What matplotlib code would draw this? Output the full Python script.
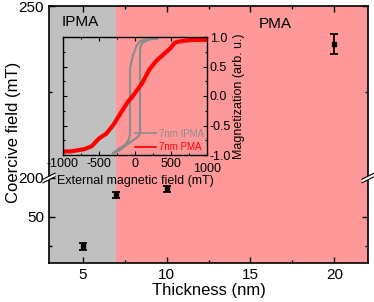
import matplotlib
matplotlib.use('Agg')
import matplotlib.pyplot as plt
import matplotlib.transforms as mtransforms
import numpy as np
from matplotlib.ticker import FixedLocator, MultipleLocator

plt.rcParams['font.family'] = ['Liberation Sans', 'DejaVu Sans']

# coercive field vs thickness
thick = [5, 7, 10, 20]
hc = [25, 68.5, 73.5, 239]
hc_err = [3, 2.5, 2.5, 2.9]

# inset loops (external field mT, magnetization arb. u.)
h_pma = [-1000, -900, -800, -700, -600, -500, -400, -300, -200, -100, -50, 0,
         100, 200, 300, 400, 500, 550, 600, 700, 800, 900, 1000]
m_pma = [-0.94, -0.94, -0.92, -0.90, -0.85, -0.72, -0.64, -0.49, -0.29, -0.10, -0.03, 0.05,
         0.22, 0.45, 0.60, 0.71, 0.82, 0.90, 0.92, 0.94, 0.95, 0.95, 0.95]
h_ipma = [306, 240, 150, 70, 20, -28, -50, -69, -69, -90, -140, -208, -306,
          -210, -139, -40, 42, 62, 70, 70, 100, 181, 240, 306]
m_ipma = [0.97, 0.97, 0.96, 0.93, 0.85, 0.69, 0.58, 0.47, -0.66, -0.75, -0.83, -0.88, -0.97,
          -0.92, -0.85, -0.76, -0.69, -0.65, -0.61, 0.81, 0.90, 0.95, 0.97, 0.98]

# broken y axis: lower 11..83, upper 200..250
pix_px = [0, 85, 85.001, 257]
pix_val = [11, 83, 200, 250]


def fwd(y):
    return np.interp(y, pix_val, pix_px)


def inv(p):
    return np.interp(p, pix_px, pix_val)


fig = plt.figure(figsize=(3.74, 3.02), dpi=100)
ax = fig.add_axes([49 / 374, 1 - 263 / 302, 319 / 374, 257 / 302])
ax.set_yscale('function', functions=(fwd, inv))
ax.set_xlim(3, 22)
ax.set_ylim(11, 250)

ax.axvspan(3, 7, color='#c0c0c0', lw=0, zorder=0)
ax.axvspan(7, 22, color='#ff9999', lw=0, zorder=0)

ax.errorbar(thick, hc, yerr=hc_err, fmt='s', color='k', ms=3, capsize=3,
            elinewidth=1.3, capthick=1.3, zorder=5)

ax.text(4.85, 245.3, 'IPMA', fontsize=11, ha='center', va='center')
ax.text(16.5, 244.8, 'PMA', fontsize=11, ha='center', va='center')

ax.xaxis.set_major_locator(FixedLocator([5, 10, 15, 20]))
ax.xaxis.set_minor_locator(FixedLocator([7.5, 12.5, 17.5]))
ax.yaxis.set_major_locator(FixedLocator([50, 200, 250]))
ax.yaxis.set_minor_locator(FixedLocator([25, 225]))
ax.set_yticklabels(['50', '200', '250'])
ax.tick_params(which='both', direction='in', top=True, right=True, labelsize=11, width=1)
ax.tick_params(which='major', length=4)
ax.tick_params(which='minor', length=2.5)
for s in ax.spines.values():
    s.set_linewidth(1.2)
ax.set_xlabel('Thickness (nm)', fontsize=12, labelpad=1)
ax.set_ylabel('Coercive field (mT)', fontsize=12)
ax.yaxis.set_label_coords(-0.088, 0.51)

# break marks
W, H = 319, 257
yb = 85 / 257
dx, dy, g = 6 / W, 3 / H, 1.8 / H
for xb in (0, 1):
    poly = plt.Polygon([(xb - dx, yb - dy - g), (xb + dx, yb + dy - g),
                        (xb + dx, yb + dy + g), (xb - dx, yb - dy + g)],
                       closed=True, transform=ax.transAxes, facecolor='white',
                       edgecolor='none', clip_on=False, zorder=10)
    ax.add_patch(poly)
    for s in (-g, g):
        ax.plot([xb - dx, xb + dx], [yb - dy + s, yb + dy + s], transform=ax.transAxes,
                color='k', lw=0.8, clip_on=False, zorder=11)

# inset
ins = fig.add_axes([63 / 374, 1 - 155 / 302, 144 / 374, 118 / 302])
ins.set_facecolor('none')
ins.plot(h_ipma, m_ipma, color='#8c8c8c', lw=1.6, label='7nm IPMA')
ins.plot(h_pma, m_pma, color='#ff0000', lw=3, label='7nm PMA')
ins.set_xlim(-1000, 1000)
ins.set_ylim(-1, 1)
ins.set_xticks([-1000, -500, 0, 500, 1000])
ins.set_xticklabels(['-1000', '-500', '0', '500', '1000'])
ins.set_yticks([-1, -0.5, 0, 0.5, 1])
ins.set_yticklabels(['-1.0', '-0.5', '0.0', '0.5', '1.0'])
ins.xaxis.set_minor_locator(MultipleLocator(250))
ins.yaxis.set_minor_locator(MultipleLocator(0.25))
ins.tick_params(which='both', direction='in', top=True, right=True, left=True,
                labelleft=False, labelright=True, labelsize=9, pad=2, width=0.8)
ins.tick_params(which='major', length=3)
ins.tick_params(which='minor', length=1.5)
last = ins.get_xticklabels()[-1]
last.set_transform(last.get_transform() +
                   mtransforms.ScaledTranslation(0, -3.5 / 72, fig.dpi_scale_trans))
ins.yaxis.set_label_position('right')
ins.set_ylabel('Magnetization (arb. u.)', fontsize=9, labelpad=1)
ins.set_xlabel('External magnetic field (mT)', fontsize=9, labelpad=0)
for s in ins.spines.values():
    s.set_linewidth(1)
leg = ins.legend(loc='lower right', frameon=False, fontsize=7, handlelength=2.2,
                 labelcolor='linecolor', borderaxespad=0.1, labelspacing=0.35,
                 handletextpad=0.3, borderpad=0.2)
for ln in leg.get_lines():
    ln.set_linewidth(1.2)

fig.savefig('out.png', dpi=100)
